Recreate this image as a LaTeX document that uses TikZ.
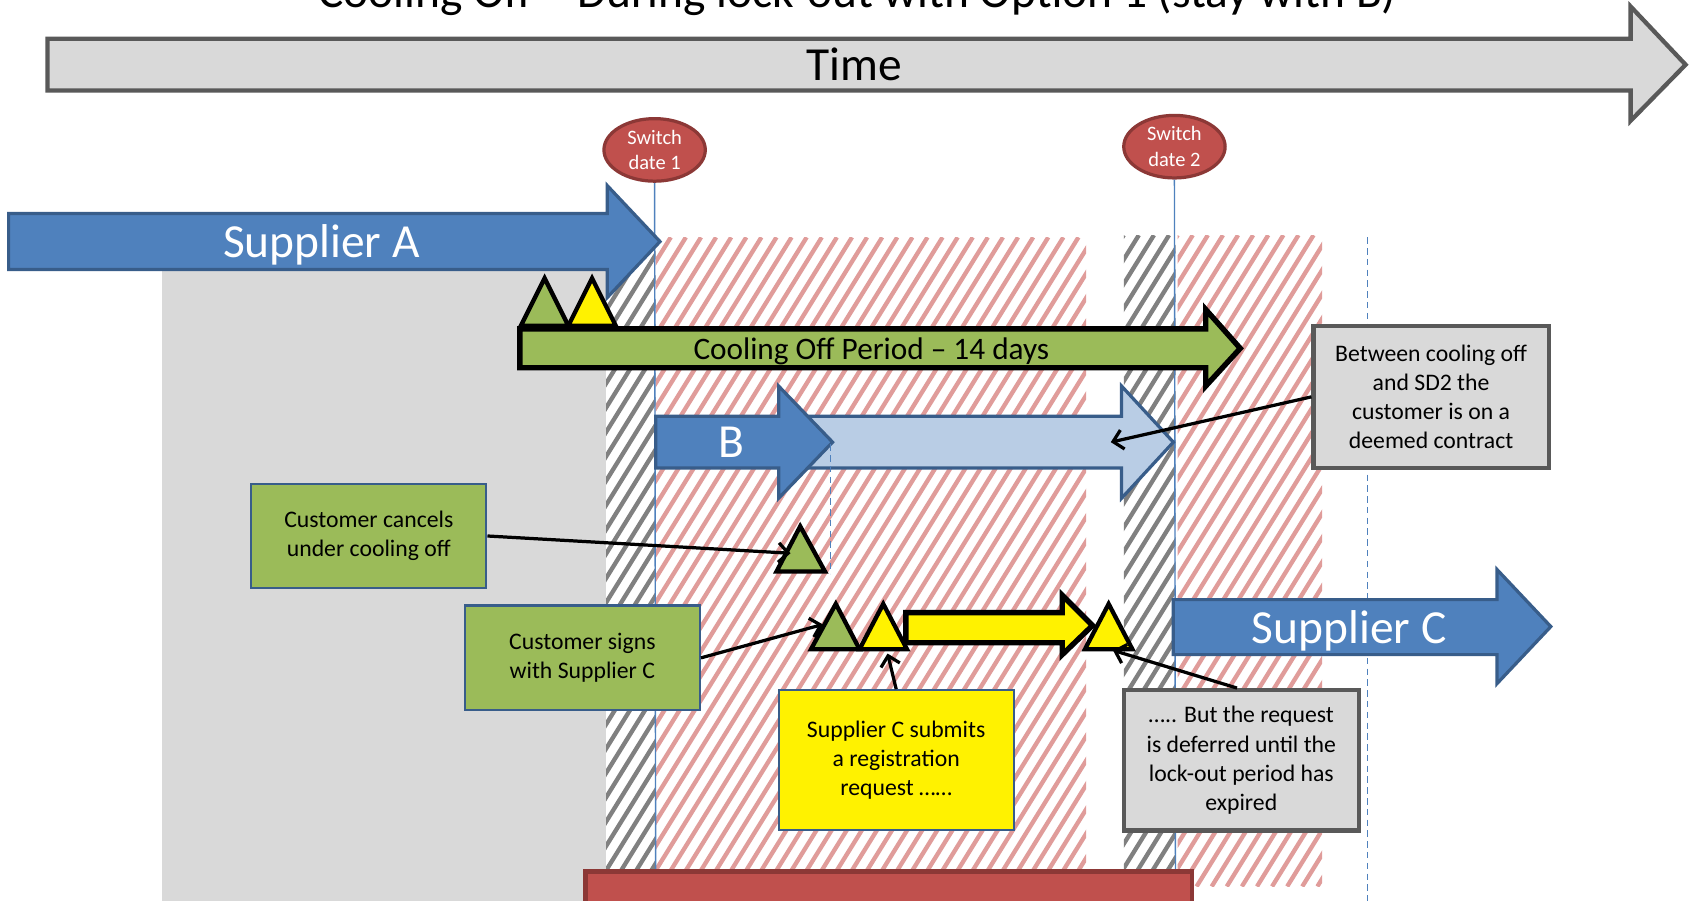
\documentclass[tikz,border=0pt]{standalone}
\usepackage{fontspec}
\setmainfont{Carlito}
\usetikzlibrary{arrows.meta,shapes.geometric}

\definecolor{blueF}{HTML}{4F81BD}
\definecolor{blueD}{HTML}{385D8A}
\definecolor{blueL}{HTML}{B9CDE5}
\definecolor{greenF}{HTML}{9BBB59}
\definecolor{greyF}{HTML}{D9D9D9}
\definecolor{greyD}{HTML}{595959}
\definecolor{redF}{HTML}{C0504D}
\definecolor{redD}{HTML}{8C3836}
\definecolor{hatchRed}{RGB}{224,156,154}
\definecolor{hatchGrey}{RGB}{128,128,128}

% diagonal hatching of a rectangular zone: colour, x0, y0, x1, y1, number of stripes
\newcommand\hatchzone[6]{%
  \begin{scope}
    \clip (#2,#3) rectangle (#4,#5);
    \foreach \k in {0,...,#6}
      \draw[#1, line width=4pt] ({#2-0.62*(#5-#3)+\k*14},#5) -- ++({0.62*(#5-#3)},{-(#5-#3)});
  \end{scope}}

\tikzset{
  bigtext/.style={font=\fontsize{44}{50}\selectfont},
  bluearrow/.style={fill=blueF, draw=blueD, line width=3pt, line join=miter},
  lightarrow/.style={fill=blueL, draw=blueD, line width=3pt, line join=miter},
  blackarrow/.style={draw=black, line width=5pt, line join=miter},
  tri/.style={draw=black, line width=4pt, line join=miter},
  datebubble/.style={ellipse, draw=redD, fill=redF, line width=3pt,
    minimum width=94pt, minimum height=58pt, inner sep=0pt, text=white,
    align=center, font=\fontsize{19}{24}\selectfont},
  notebox/.style={draw, align=center, inner sep=0pt,
    minimum width=218pt, font=\fontsize{22}{27}\selectfont},
  greennote/.style={notebox, fill=greenF, draw=blueD, line width=2pt, minimum height=97pt},
  yellownote/.style={notebox, fill=yellow, draw=blueD, line width=2pt, minimum height=130pt},
  greynote/.style={notebox, fill=greyF, draw=greyD, line width=4pt, minimum height=130pt},
  datelinestyle/.style={draw=blueF, line width=1.3pt},
  dashline/.style={draw=blueF, line width=1.5pt, dash pattern=on 6pt off 4pt},
  conn/.style={line width=3pt, -{Straight Barb[length=9pt,width=18pt,line width=3pt]}}
}

\begin{document}
\begin{tikzpicture}[x=1pt,y=-1pt]
\useasboundingbox (0,0) rectangle (1568,835);
\fill[white] (0,0) rectangle (1568,835);

% title
\node[bigtext, anchor=base] (title) at (795,7) {Cooling Off – During lock-out with Option 1 (stay with B)};

% time axis
\draw[fill=greyF, draw=greyD, line width=4pt, line join=miter]
  (44,36) -- (1512,36) -- (1512,6) -- (1563,60) -- (1512,112) -- (1512,84) -- (44,84) -- cycle;
\node[bigtext, anchor=base] (timeLbl) at (792,75) {Time};

% grey band below supplier A
\fill[greyF] (150,250) rectangle (562,835);

% lock-out and cooling-off zones
\hatchzone{hatchGrey}{562}{220}{608}{822}{31}
\hatchzone{hatchRed}{608}{220}{1007}{822}{56}
\hatchzone{hatchGrey}{1042}{218}{1090}{822}{31}
\hatchzone{hatchRed}{1092}{218}{1226}{822}{38}

% switch dates
\node[datebubble] (sd1) at (607,139) {Switch\\date 1};
\node[datebubble] (sd2) at (1089,136) {Switch\\date 2};
\coordinate (sd1foot) at (608,835);
\coordinate (sd2foot) at (1090,835);
\draw[datelinestyle] (sd1.south) -- (sd1foot);
\draw[datelinestyle] (sd2.south) -- (sd2foot);

% dashed marker at supplier C
\coordinate (dashBtop) at (1268,220);
\coordinate (dashBbot) at (1268,835);
\draw[dashline] (dashBtop) -- (dashBbot);

% red block at the foot
\draw[fill=redF, draw=redD, line width=4pt] (543,808) rectangle (1105,860);

% supplier A
\draw[bluearrow] (8,198) -- (563,198) -- (563,172) -- (612,224) -- (563,276) -- (563,250) -- (8,250) -- cycle;
\node[bigtext, text=white, anchor=base] (lblA) at (298,239) {Supplier A};

% cooling off period
\draw[blackarrow, fill=greenF] (482,305) -- (1118,305) -- (1118,287) -- (1150,323) -- (1118,358) -- (1118,341) -- (482,341) -- cycle;
\node[font=\fontsize{29}{34}\selectfont, anchor=base] (lblCool) at (808,333) {Cooling Off Period – 14 days};

% sign-up markers
\draw[tri, fill=greenF] (483,302) -- (527,302) -- (505,258) -- cycle;
\draw[tri, fill=yellow] (527,302) -- (571,302) -- (549,258) -- cycle;

% supplier B and deemed contract
\draw[lightarrow] (745,386) -- (1040,386) -- (1040,358) -- (1088,410) -- (1040,462) -- (1040,434) -- (745,434) -- cycle;
\draw[bluearrow] (608,386) -- (722,386) -- (722,358) -- (772,410) -- (722,462) -- (722,434) -- (608,434) -- cycle;
\node[bigtext, text=white, anchor=base] (lblB) at (678,424) {B};

% dashed marker at end of B
\coordinate (dashAtop) at (770,412);
\coordinate (dashAbot) at (770,532);
\draw[dashline] (dashAtop) -- (dashAbot);

% cancellation marker
\draw[tri, fill=greenF] (720,530) -- (765,530) -- (742,488) -- cycle;
\coordinate (cancelTri) at (733,513);

% supplier C sign-up and registration
\draw[tri, fill=greenF] (752,602) -- (797,602) -- (775,560) -- cycle;
\draw[tri, fill=yellow] (797,602) -- (841,602) -- (819,560) -- cycle;
\draw[blackarrow, fill=yellow] (840,568) -- (985,568) -- (985,552) -- (1013,580) -- (985,607) -- (985,596) -- (840,596) -- cycle;
\draw[tri, fill=yellow] (1006,602) -- (1050,602) -- (1028,560) -- cycle;
\coordinate (signTri) at (763,579);
\coordinate (submitTri) at (823,606);
\coordinate (deferTri) at (1032,603);
\coordinate (deemedPt) at (1030,410);

% supplier C
\draw[bluearrow] (1088,556) -- (1388,556) -- (1388,528) -- (1438,581) -- (1388,634) -- (1388,607) -- (1088,607) -- cycle;
\node[bigtext, text=white, anchor=base] (lblC) at (1251,597) {Supplier C};

% notes
\node[greynote, minimum height=132pt] (deemed) at (1327,368) {Between cooling off\\and SD2 the\\customer is on a\\deemed contract};
\node[greennote] (cancel) at (342,497) {Customer cancels\\under cooling off};
\node[greennote] (signs) at (540,610) {Customer signs\\with Supplier C};
\node[yellownote] (submit) at (831,705) {Supplier C submits\\a registration\\request ……};
\node[greynote] (defer) at (1151,705) {….. But the request\\is deferred until the\\lock-out period has\\expired};

% connectors
\draw[conn] (deemed.west) -- (deemedPt);
\draw[conn] (cancel.east) -- (cancelTri);
\draw[conn] (signs.east) -- (signTri);
\draw[conn] (submit.north) -- (submitTri);
\draw[conn] ([xshift=-4pt]defer.north) -- (deferTri);
\end{tikzpicture}
\end{document}
